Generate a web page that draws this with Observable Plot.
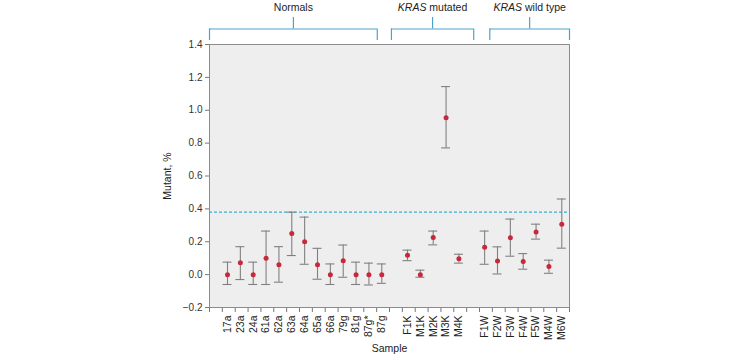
<!DOCTYPE html>
<html>
<head>
<meta charset="utf-8">
<script src="https://cdn.jsdelivr.net/npm/d3@7"></script>
<script src="https://cdn.jsdelivr.net/npm/@observablehq/plot@0.6"></script>
<style>
  html, body { margin: 0; padding: 0; background: #fff; }
  #chart svg { display: block; }
</style>
</head>
<body>
<div id="chart"></div>
<script>
// ---------- data ----------
const samples = ["17a","23a","24a","61a","62a","63a","64a","65a","66a","79g","81g","87g*","87g",
                 "F1K","M1K","M2K","M3K","M4K",
                 "F1W","F2W","F3W","F4W","F5W","M4W","M6W"];
const groupNames = ["Normals", "KRAS mutated", "KRAS wild type"];
const groupCounts = [13, 5, 7];
const mutant = [0.00, 0.073, 0.00, 0.10, 0.06, 0.25, 0.20, 0.06, 0.00, 0.085, 0.00, 0.00, 0.00,
                0.118, 0.00, 0.226, 0.955, 0.096,
                0.167, 0.083, 0.224, 0.08, 0.26, 0.049, 0.307];
const upper  = [0.076, 0.17, 0.076, 0.265, 0.17, 0.38, 0.35, 0.16, 0.065, 0.18, 0.076, 0.07, 0.065,
                0.149, 0.027, 0.265, 1.144, 0.124,
                0.265, 0.169, 0.338, 0.128, 0.307, 0.088, 0.46];
const lower  = [-0.06, -0.03, -0.06, -0.06, -0.046, 0.116, 0.063, -0.028, -0.06, -0.016, -0.06, -0.063, -0.053,
                0.085, -0.016, 0.181, 0.771, 0.07,
                0.063, 0.004, 0.112, 0.033, 0.216, 0.008, 0.161];
const threshold = 0.38;
const yTicks = [-0.2, 0.0, 0.2, 0.4, 0.6, 0.8, 1.0, 1.2, 1.4];

// ---------- layout (not data) ----------
const W = 750, H = 355;
const mL = 209, mR = 181, mT = 44, mB = 48;
const slotOffset = 1.4;           // position of first sample within slot grid
const nSlots = 28;
const bracketSpans = [[0, 13.05], [14.15, 20.55], [21.8, 28]];
const yDomain = [-0.2, 1.4];
const pxToY = (yDomain[1] - yDomain[0]) / (H - mT - mB);

// build table
const rows = [];
let k = 0;
groupCounts.forEach((n, g) => {
  for (let i = 0; i < n; i++, k++) {
    rows.push({sample: samples[k], group: groupNames[g], pos: k + g + slotOffset,
               value: mutant[k], hi: upper[k], lo: lower[k]});
  }
});
const brackets = groupNames.map((name, g) => {
  const [a, b] = bracketSpans[g];
  return {name, x1: a, x2: b, xc: (a + b) / 2};
});
const yTop = yDomain[1];
const yBar = yTop + 15.5 * pxToY;
const yEnd = yTop + 4 * pxToY;
const yStem = yTop + 27 * pxToY;
const yLabel = yTop + 36.5 * pxToY;

const bracketColor = "#4ba3cc";

const chart = Plot.plot({
  width: W, height: H,
  marginLeft: mL, marginRight: mR, marginTop: mT, marginBottom: mB,
  style: {fontFamily: "'Liberation Sans', Arial, sans-serif", fontSize: "10px", color: "#333", background: "#fff", overflow: "visible"},
  x: {domain: [0, nSlots], axis: null},
  y: {domain: yDomain, axis: null},
  marks: [
    Plot.frame({fill: "#eeeeee", stroke: null}),
    Plot.ruleY([threshold], {stroke: "#3aaed8", strokeWidth: 1.3, strokeDasharray: "3,2"}),
    // axes
    Plot.axisY({ticks: yTicks, tickFormat: d3.format(".1f"), tickSize: 4, tickPadding: 3,
                stroke: "#777", fill: "#333", fontSize: 10, label: null}),
    Plot.axisX({ticks: d3.range(0, nSlots + 1), tickFormat: () => "", tickSize: 5,
                stroke: "#777", label: null}),
    Plot.frame({stroke: "#8c8c8c", strokeWidth: 1}),
    // error bars
    Plot.ruleX(rows, {x: "pos", y1: "lo", y2: "hi", stroke: "#808080", strokeWidth: 1.1}),
    Plot.ruleY(rows, {y: "hi", x1: d => d.pos - 0.35, x2: d => d.pos + 0.35, stroke: "#808080", strokeWidth: 1.1}),
    Plot.ruleY(rows, {y: "lo", x1: d => d.pos - 0.35, x2: d => d.pos + 0.35, stroke: "#808080", strokeWidth: 1.1}),
    Plot.dot(rows, {x: "pos", y: "value", r: 2.5, fill: "#c8283c", stroke: null, symbol: "circle"}),
    // sample labels
    Plot.text(rows, {x: "pos", text: "sample", frameAnchor: "bottom", dy: 8, rotate: -90,
                     textAnchor: "end", lineAnchor: "middle", fontSize: 10.5, fill: "#222"}),
    // axis titles
    Plot.text(["Mutant, %"], {frameAnchor: "left", dx: -42, rotate: -90, textAnchor: "middle",
                              lineAnchor: "middle", fontSize: 10.5, fill: "#222"}),
    Plot.text(["Sample"], {frameAnchor: "bottom", dy: 41, textAnchor: "middle", lineAnchor: "middle",
                           fontSize: 10.5, fill: "#222"}),
    // group brackets
    Plot.ruleY(brackets, {y: yBar, x1: "x1", x2: "x2", stroke: bracketColor, strokeWidth: 1.2}),
    Plot.ruleX(brackets, {x: "x1", y1: yEnd, y2: yBar, stroke: bracketColor, strokeWidth: 1.2}),
    Plot.ruleX(brackets, {x: "x2", y1: yEnd, y2: yBar, stroke: bracketColor, strokeWidth: 1.2}),
    Plot.ruleX(brackets, {x: "xc", y1: yBar, y2: yStem, stroke: bracketColor, strokeWidth: 1.2}),
    Plot.text(brackets, {x: "xc", y: yLabel, text: "name", textAnchor: "middle", lineAnchor: "middle",
                         fontSize: 10.5, fill: "#222"})
  ]
});

// italicise the gene name in group labels
d3.select(chart).selectAll("text").each(function () {
  const t = this.textContent;
  if (t.startsWith("KRAS ")) {
    const sel = d3.select(this);
    sel.text(null);
    sel.append("tspan").attr("font-style", "italic").text("KRAS");
    sel.append("tspan").text(t.slice(4));
  }
});

document.getElementById("chart").appendChild(chart);
</script>
</body>
</html>
